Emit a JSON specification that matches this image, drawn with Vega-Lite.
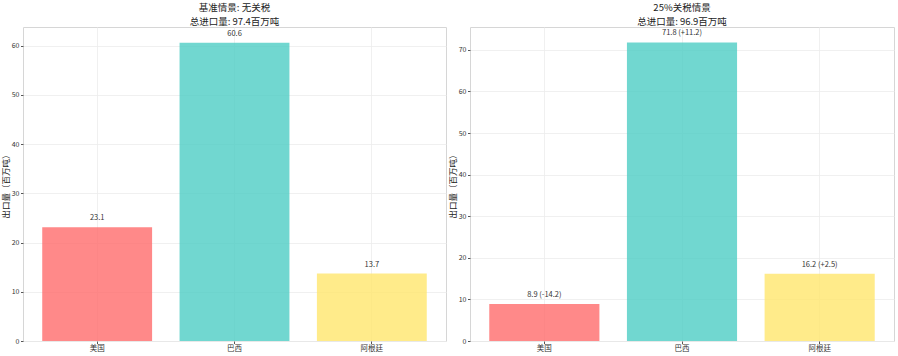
{
  "$schema": "https://vega.github.io/schema/vega-lite/v6.json",
  "padding": {"left": 0, "top": 2, "right": 2, "bottom": 0},
  "background": "white",
  "config": {
    "font": "Noto Sans CJK SC",
    "view": {"stroke": "#d6d6d6", "strokeWidth": 1},
    "axis": {"gridColor": "#ececec", "gridWidth": 0.8, "domain": false, "tickColor": "#555", "tickSize": 2.5, "labelColor": "#333", "labelFont": "Noto Sans CJK SC", "titleFont": "Noto Sans CJK SC", "titleFontWeight": "normal", "titleColor": "#222"},
    "title": {"font": "Noto Sans CJK SC", "fontSize": 9.5, "fontWeight": "normal", "color": "#222", "offset": 1, "lineHeight": 13.5}
  },
  "datasets": {
    "base": [
      {"country": "美国", "value": 23.1, "label": "23.1"},
      {"country": "巴西", "value": 60.6, "label": "60.6"},
      {"country": "阿根廷", "value": 13.7, "label": "13.7"}
    ],
    "tariff": [
      {"country": "美国", "value": 8.9, "label": "8.9 (-14.2)"},
      {"country": "巴西", "value": 71.8, "label": "71.8 (+11.2)"},
      {"country": "阿根廷", "value": 16.2, "label": "16.2 (+2.5)"}
    ]
  },
  "spacing": 0,
  "hconcat": [
    {
      "width": 423,
      "height": 314,
      "title": {"text": ["基准情景: 无关税", "总进口量: 97.4百万吨"]},
      "data": {"name": "base"},
      "encoding": {
        "x": {"field": "country", "type": "nominal", "sort": ["美国", "巴西", "阿根廷"],
          "scale": {"paddingInner": 0.2, "paddingOuter": 0.14},
          "axis": {"title": null, "labelAngle": 0, "labelFontSize": 7.5, "grid": true, "bandPosition": 0.5, "labelPadding": 1}},
        "y": {"field": "value", "type": "quantitative",
          "scale": {"domain": [0, 63.8], "nice": false},
          "axis": {"title": "出口量（百万吨）", "titleFontSize": 8.5, "labelFontSize": 7, "values": [0, 10, 20, 30, 40, 50, 60], "titlePadding": 1, "labelPadding": 1.5}}
      },
      "layer": [
        {"mark": {"type": "bar", "opacity": 0.8}, "encoding": {"color": {"field": "country", "type": "nominal", "scale": {"domain": ["美国", "巴西", "阿根廷"], "range": ["#FF6B6B", "#4ECDC4", "#FFE66D"]}, "legend": null}}},
        {"mark": {"type": "text", "dy": -5, "baseline": "bottom", "fontSize": 7.5, "color": "#333"}, "encoding": {"text": {"field": "label"}}}
      ]
    },
    {
      "width": 424,
      "height": 314,
      "title": {"text": ["25%关税情景", "总进口量: 96.9百万吨"]},
      "data": {"name": "tariff"},
      "encoding": {
        "x": {"field": "country", "type": "nominal", "sort": ["美国", "巴西", "阿根廷"],
          "scale": {"paddingInner": 0.2, "paddingOuter": 0.14},
          "axis": {"title": null, "labelAngle": 0, "labelFontSize": 7.5, "grid": true, "bandPosition": 0.5, "labelPadding": 1}},
        "y": {"field": "value", "type": "quantitative",
          "scale": {"domain": [0, 75.5], "nice": false},
          "axis": {"title": "出口量（百万吨）", "titleFontSize": 8.5, "labelFontSize": 7, "values": [0, 10, 20, 30, 40, 50, 60, 70], "titlePadding": 1, "labelPadding": 1.5}}
      },
      "layer": [
        {"mark": {"type": "bar", "opacity": 0.8}, "encoding": {"color": {"field": "country", "type": "nominal", "scale": {"domain": ["美国", "巴西", "阿根廷"], "range": ["#FF6B6B", "#4ECDC4", "#FFE66D"]}, "legend": null}}},
        {"mark": {"type": "text", "dy": -5, "baseline": "bottom", "fontSize": 7.5, "color": "#333"}, "encoding": {"text": {"field": "label"}}}
      ]
    }
  ]
}
